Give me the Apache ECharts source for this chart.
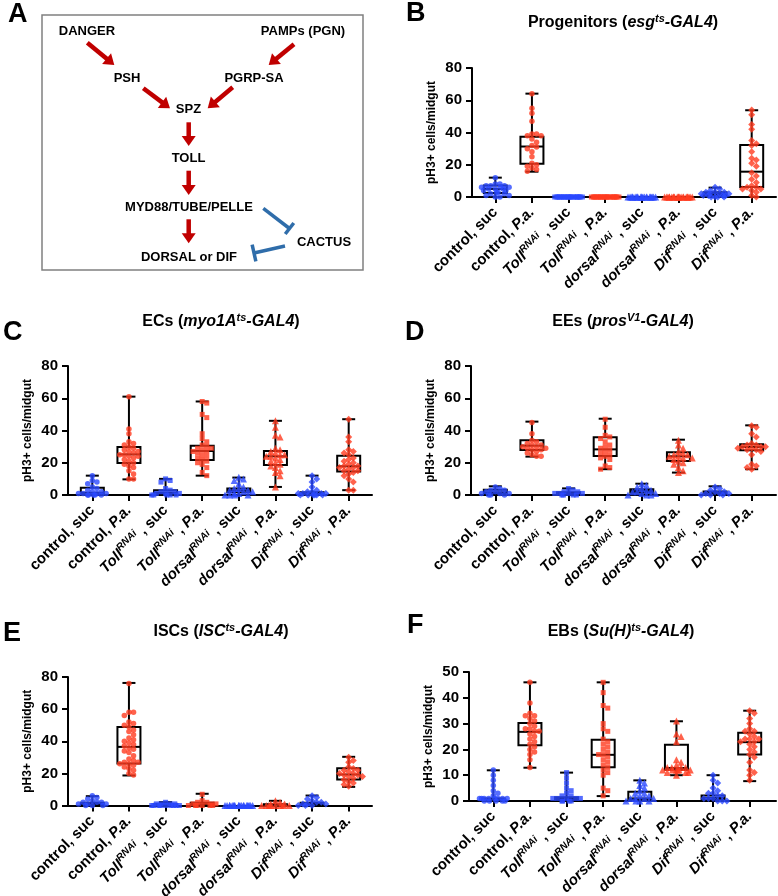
<!DOCTYPE html>
<html><head><meta charset="utf-8">
<script src="https://cdn.jsdelivr.net/npm/echarts@6/dist/echarts.min.js"></script>
<style>html,body{margin:0;padding:0;background:#fff}#c{width:778px;height:896px}</style>
</head><body><div id="c"></div>
<script>
// ---------------- DATA ----------------
const categories = ['control, suc','control, P.a.','TollRNAi , suc','TollRNAi , P.a.','dorsalRNAi , suc','dorsalRNAi , P.a.','DifRNAi , suc','DifRNAi , P.a.'];
const yAxisName = 'pH3+ cells/midgut';

// box stats per category: [min, Q1, median, Q3, max]
const B_stats = [[0,2.5,5,7.2,12],[15.7,20.6,31.3,37.3,64.1],[0,0,0,0,0],[0,0,0,0,0],[0,0,0,0,0],[0,0,0,0,0],[0,1.2,2,2.9,5.8],[0,6.2,15.7,32.2,53.8]];
const B_points = [
  [12,8,8,7,7,7,6,6,6,5,5,5,4,4,3,3,2,2,1,1,0,0],
  [64,55,52,47,39,39,38,38,36,34,32,31,30,28,25,21,20,19,18,17,16],
  [0,0,0,0,0,0,0,0,0,0,0,0,0,0,0,0,0,0,0,0,0,0],
  [0,0,0,0,0,0,0,0,0,0,0,0,0,0,0,0,0,0,0,0,0,0],
  [0,0,0,0,0,0,0,0,0,0,0,0,0,0,0,0,0,0,0,0,0,0],
  [0,0,0,0,0,0,0,0,0,0,0,0,0,0,0,0,0,0,0,0,0,0],
  [6,5,4,3,3,3,2,2,2,2,1,1,1,1,0,0,0,0],
  [54,51,45,42,35,33,32,28,24,23,21,19,15,13,11,9,7,6,6,5,5,4,3,1,0]
];
const B_sig = ['','','***','***','***','***','***','**'];

const C_stats = [[0,0.4,1.4,4.5,12],[9.7,19.8,25.2,29.8,61],[0,0.4,1.4,2.9,10],[12,21.7,27.3,30.6,58],[0,1.7,2.9,4.1,10.8],[5,18.6,24,27.3,46],[0,0.4,1,1.7,12],[3,14.5,17.8,24.4,47]];
const C_points = [
  [12,9,8,7,5,4,3,2,2,1,1,1,1,0,0,0,0,0],
  [61,41,38,33,32,31,30,29,28,27,27,26,25,25,24,24,23,22,21,20,19,18,17,15,13,10,10],
  [10,9,8,4,3,2,2,1,1,1,0,0,0,0,0],
  [58,57,50,48,38,35,33,31,30,29,29,28,27,27,26,25,24,23,22,21,20,19,17,14,12],
  [11,10,9,7,5,4,4,3,3,2,2,1,1,0,0,0,0],
  [46,42,37,36,29,28,27,26,25,25,24,24,23,22,21,20,19,18,17,15,14,12,5],
  [12,10,8,5,3,2,2,1,1,1,1,0,0,0,0,0,0],
  [47,36,33,28,27,26,25,23,22,21,20,19,18,18,17,17,16,15,15,14,13,12,10,8,3,3]
];
const C_sig = ['','','','','','','',''];

const D_stats = [[0,0.8,1.7,3.3,5.4],[23.8,27.9,30.6,33.9,45.5],[0,0.5,1,1.7,4.1],[16,24.2,28.3,35.8,47.3],[0,1.4,2.5,3.5,7],[13.9,21.1,24,26.5,34.3],[0,0.8,1.4,2.1,5.4],[16,27.7,29.8,31.4,43.2]];
const D_points = [
  [5,4,3,3,2,2,1,1,1,0,0,0],
  [45,38,34,33,32,31,31,30,30,29,29,28,28,27,26,25,24,24],
  [4,3,2,2,1,1,1,1,0,0,0,0],
  [47,42,37,36,35,33,31,30,29,28,27,26,25,24,23,22,18,17,16],
  [7,6,5,4,3,3,2,2,1,1,0,0,0],
  [34,31,29,27,26,25,25,24,24,23,23,22,21,20,19,17,15,14],
  [5,4,3,2,2,1,1,1,0,0,0],
  [43,42,38,36,32,31,31,30,30,30,29,29,28,28,27,25,19,18,17,16]
];
const D_sig = ['','','*','','','***','',''];

const E_stats = [[0,0.4,1,1.7,5.8],[18.7,26.1,36.5,48.9,76.3],[0,0,0.5,1,2.1],[0,0,0.6,1.7,7.3],[0,0,0,0,0],[0,0,0.2,0.8,2.9],[0,0.4,1,1.7,6.2],[11.6,16.2,19.3,23.2,30.3]];
const E_points = [
  [6,5,4,3,2,2,2,1,1,1,0,0,0],
  [76,58,58,56,52,51,50,49,47,46,44,42,41,40,39,38,37,36,35,34,33,31,29,28,27,27,26,26,25,24,23,22,20,19],
  [2,1,1,1,1,0,0,0,0,0,0,0,0,0],
  [7,3,2,2,1,1,1,0,0,0,0,0,0],
  [0,0,0,0,0,0,0,0,0,0,0,0,0,0,0,0,0,0,0,0],
  [3,2,1,1,0,0,0,0,0,0,0,0],
  [6,5,4,3,2,2,1,1,1,0,0,0],
  [30,28,27,24,23,22,22,21,20,20,19,19,18,18,17,16,15,14,13,12]
];
const E_sig = ['','','***','***','***','***','','***'];

const F_stats = [[0,0.5,0.8,1,11.9],[12.9,21.6,26.8,30.2,46],[0,0.5,0.8,1.5,11],[1.9,13.1,17.9,23.7,46],[0,0.5,1,3.6,8],[10,12,12.8,21.8,30.9],[0,0.6,1.2,2.1,10],[7.7,18,22.8,26.5,35]];
const F_points = [
  [12,10,8,6,4,3,2,1,1,1,1,1,1,1,1,0,0,0,0,0],
  [46,38,34,33,33,32,31,30,29,28,28,27,27,26,25,24,23,22,21,20,19,18,16,13],
  [11,9,7,5,4,3,2,2,1,1,1,1,1,0,0,0,0],
  [46,42,37,36,30,28,27,24,23,22,21,20,19,18,18,17,16,15,14,13,12,11,10,5,4,2],
  [8,7,6,5,4,3,3,2,2,1,1,1,1,0,0,0,0],
  [31,26,25,23,16,15,14,13,13,13,13,12,12,12,12,12,12,11,11,11,10],
  [10,8,7,5,4,3,3,2,2,1,1,1,0,0,0],
  [35,34,32,30,28,27,27,26,25,24,24,24,23,23,22,21,20,19,18,17,15,12,11,10,8]
];
const F_sig = ['','','','**','','***','','*'];

// ---------------- STYLE / LAYOUT ----------------
const FONT = '"Liberation Sans", Arial, Helvetica, sans-serif';
const BLUE = '#2A48FF', RED = '#FF3B1F', DRED = '#C00000', IBLUE = '#2F6DAA';
const SHAPES = ['circle','circle','rect','rect','triangle','triangle','diamond','diamond'];
const SIZES = {circle:5.5, rect:5, triangle:7, diamond:7};

function richSet(size, sup){
  return {
    b:{fontFamily:FONT,fontWeight:'bold',fontSize:size,color:'#000',lineHeight:size+4},
    bi:{fontFamily:FONT,fontWeight:'bold',fontStyle:'italic',fontSize:size,color:'#000',lineHeight:size+4},
    sup:{fontFamily:FONT,fontWeight:'bold',fontStyle:'italic',fontSize:sup,color:'#000',lineHeight:sup,verticalAlign:'top'}
  };
}
const LABELS = [
  '{b|control, suc}',
  '{b|control, }{bi|P.a.}',
  '{bi|Toll}{sup|RNAi}{b| , suc}',
  '{bi|Toll}{sup|RNAi}{b| , }{bi|P.a.}',
  '{bi|dorsal}{sup|RNAi}{b| , suc}',
  '{bi|dorsal}{sup|RNAi}{b| , }{bi|P.a.}',
  '{bi|Dif}{sup|RNAi}{b| , suc}',
  '{bi|Dif}{sup|RNAi}{b| , }{bi|P.a.}'
];

const panels = [
  {stats:B_stats, pts:B_points, sig:B_sig, max:80, interval:20, axisX:472, left:477, right:776, top:68, h:129, sigLevel:80,
   title:'{b|Progenitors (}{bi|esg}{sup|ts}{bi|-GAL4}{b|)}', tx:623, ty:23, letter:'B', lx:406, ly:14},
  {stats:C_stats, pts:C_points, sig:C_sig, max:80, interval:20, axisX:68, left:74, right:372, top:366, h:129, sigLevel:81,
   title:'{b|ECs (}{bi|myo1A}{sup|ts}{bi|-GAL4}{b|)}', tx:221, ty:322, letter:'C', lx:3, ly:333},
  {stats:D_stats, pts:D_points, sig:D_sig, max:80, interval:20, axisX:471, left:477, right:776, top:366, h:129, sigLevel:81.2,
   title:'{b|EEs (}{bi|pros}{sup|V1}{bi|-GAL4}{b|)}', tx:623, ty:322, letter:'D', lx:405, ly:333},
  {stats:E_stats, pts:E_points, sig:E_sig, max:80, interval:20, axisX:68, left:74, right:372, top:677, h:128.5, sigLevel:80.5,
   title:'{b|ISCs (}{bi|ISC}{sup|ts}{bi|-GAL4}{b|)}', tx:221, ty:632, letter:'E', lx:3, ly:634},
  {stats:F_stats, pts:F_points, sig:F_sig, max:50, interval:10, axisX:469, left:475, right:776, top:672, h:129, sigLevel:52.3,
   title:'{b|EBs (}{bi|Su(H)}{sup|ts}{bi|-GAL4}{b|)}', tx:621, ty:632, letter:'F', lx:407, ly:626}
];

// deterministic horizontal spreading of points with close values (beeswarm)
function swarm(vals, pxPerUnit){
  const D = 4.6, placed = [], out = [];
  const cand = [0, 1, -1, 2, -2, 3, -3];
  vals.forEach((v, n) => {
    const y = v * pxPerUnit;
    let chosen = null;
    for (const c of cand){
      const off = c * D;
      if (placed.every(p => Math.hypot(p[0]-off, p[1]-y) >= D)) { chosen = off; break; }
    }
    if (chosen === null) chosen = cand[n % cand.length] * D * 0.85 + ((n % 3) - 1) * 1.2;
    placed.push([chosen, y]); out.push(chosen);
  });
  return out;
}

const grids = [], xAxes = [], yAxes = [], series = [], graphics = [];

panels.forEach((p, pi) => {
  const gDisp = grids.length;
  grids.push({left:p.axisX, top:p.top, width:p.right - p.axisX, height:p.h, containLabel:false, outerBoundsMode:'none'});
  const gData = grids.length;
  grids.push({left:p.left, top:p.top, width:293, height:p.h, containLabel:false, outerBoundsMode:'none'});

  // display axes
  xAxes.push({gridIndex:gDisp, type:'value', min:0, max:1, axisLine:{show:true, lineStyle:{color:'#000', width:2}},
    axisTick:{show:false}, axisLabel:{show:false}, splitLine:{show:false}});
  yAxes.push({gridIndex:gDisp, type:'value', min:0, max:p.max, interval:p.interval,
    name:yAxisName, nameLocation:'middle', nameGap:34, nameRotate:90,
    nameTextStyle:{fontFamily:FONT, fontWeight:'bold', fontSize:12, color:'#000'},
    axisLine:{show:true, lineStyle:{color:'#000', width:2}},
    axisTick:{show:true, length:6, lineStyle:{color:'#000', width:2}},
    axisLabel:{fontFamily:FONT, fontWeight:'bold', fontSize:15, color:'#000', margin:10},
    splitLine:{show:false}});
  // data axes
  const xi = xAxes.length;
  xAxes.push({gridIndex:gData, type:'category', data:categories, boundaryGap:true,
    axisLine:{show:false}, axisTick:{show:true, alignWithLabel:true, length:6, lineStyle:{color:'#000', width:2}},
    axisLabel:{interval:0, rotate:45, margin:13, formatter:(v, i) => LABELS[i], rich:richSet(15, 10)},
    splitLine:{show:false}});
  const yi = yAxes.length;
  yAxes.push({gridIndex:gData, type:'value', min:0, max:p.max, show:false, splitLine:{show:false}});

  // boxes
  series.push({type:'custom', xAxisIndex:xi, yAxisIndex:yi, clip:false, z:2,
    data:p.stats.map((s, i) => [i, ...s]),
    encode:{x:0, y:[1,2,3,4,5]},
    renderItem:(params, api) => {
      const i = api.value(0);
      const mn = api.value(1), q1 = api.value(2), md = api.value(3), q3 = api.value(4), mx = api.value(5);
      if (mx === 0) return {type:'group', children:[]};
      const x = api.coord([i, 0])[0];
      const y = v => api.coord([i, v])[1];
      const bw = 11.5, cw = 6.5;
      const st = {stroke:'#000', lineWidth:2};
      return {type:'group', children:[
        {type:'line', shape:{x1:x, y1:y(mn), x2:x, y2:y(q1)}, style:st},
        {type:'line', shape:{x1:x, y1:y(q3), x2:x, y2:y(mx)}, style:st},
        {type:'line', shape:{x1:x-cw, y1:y(mn), x2:x+cw, y2:y(mn)}, style:st},
        {type:'line', shape:{x1:x-cw, y1:y(mx), x2:x+cw, y2:y(mx)}, style:st},
        {type:'rect', shape:{x:x-bw, y:y(q3), width:2*bw, height:y(q1)-y(q3)}, style:{stroke:'#000', lineWidth:2, fill:'none'}},
        {type:'line', shape:{x1:x-bw, y1:y(md), x2:x+bw, y2:y(md)}, style:st}
      ]};
    }});

  // points
  const ppu = p.h / p.max;
  const pdata = [];
  p.pts.forEach((vals, i) => {
    const offs = swarm(vals, ppu);
    vals.forEach((v, k) => {
      pdata.push({value:[i, v], symbol:SHAPES[i], symbolSize:SIZES[SHAPES[i]], symbolOffset:[offs[k], 0],
        itemStyle:{color: i % 2 ? RED : BLUE, opacity:0.8}});
    });
  });
  series.push({type:'scatter', xAxisIndex:xi, yAxisIndex:yi, clip:false, z:3, silent:true, data:pdata});

  // significance marks
  series.push({type:'scatter', xAxisIndex:xi, yAxisIndex:yi, clip:false, z:4, symbolSize:1, itemStyle:{opacity:0},
    data:p.sig.map((s, i) => ({value:[i, p.sigLevel], name:s,
      label:{show:s !== '', formatter:'{b}', position:'inside', color: i % 2 ? RED : BLUE,
        fontFamily:FONT, fontWeight:'bold', fontSize:14}}))});

  // titles and panel letters
  graphics.push({type:'text', x:p.tx, y:p.ty, style:{text:p.title, rich:richSet(16, 11), align:'center', verticalAlign:'middle', textAlign:'center', textVerticalAlign:'middle'}});
  graphics.push({type:'text', x:p.lx, y:p.ly, style:{text:p.letter, font:'bold 27px ' + FONT, fill:'#000', align:'left', verticalAlign:'middle', textAlign:'left', textVerticalAlign:'middle'}});
});

// ---------------- PANEL A: pathway schematic ----------------
graphics.push({type:'text', x:8, y:15, style:{text:'A', font:'bold 27px ' + FONT, fill:'#000', align:'left', verticalAlign:'middle', textAlign:'left', textVerticalAlign:'middle'}});
graphics.push({type:'rect', shape:{x:42, y:15, width:321, height:255}, style:{stroke:'#808080', lineWidth:1.5, fill:'none'}});
const nodes = [
  ['DANGER', 87, 31], ['PAMPs (PGN)', 303, 31], ['PSH', 127, 78], ['PGRP-SA', 254, 78],
  ['SPZ', 188.5, 109], ['TOLL', 188.5, 158], ['MYD88/TUBE/PELLE', 189, 207],
  ['DORSAL or DIF', 189, 257], ['CACTUS', 324, 242]
];
nodes.forEach(n => graphics.push({type:'text', x:n[1], y:n[2], style:{text:n[0], font:'bold 13px ' + FONT, fill:'#000', align:'center', verticalAlign:'middle', textAlign:'center', textVerticalAlign:'middle'}}));
function arrow(x1, y1, x2, y2){
  const dx = x2-x1, dy = y2-y1, L = Math.hypot(dx, dy), ux = dx/L, uy = dy/L, nx = -uy, ny = ux;
  const hl = 10, hw = 7, bx = x2-ux*hl, by = y2-uy*hl;
  graphics.push({type:'line', shape:{x1, y1, x2:bx+ux, y2:by+uy}, style:{stroke:DRED, lineWidth:4.5}});
  graphics.push({type:'polygon', shape:{points:[[x2, y2],[bx+nx*hw, by+ny*hw],[bx-nx*hw, by-ny*hw]]}, style:{fill:DRED}});
}
function inhibit(x1, y1, x2, y2, half){
  const dx = x2-x1, dy = y2-y1, L = Math.hypot(dx, dy), nx = -dy/L, ny = dx/L;
  graphics.push({type:'line', shape:{x1, y1, x2, y2}, style:{stroke:IBLUE, lineWidth:3.5}});
  graphics.push({type:'line', shape:{x1:x2+nx*half, y1:y2+ny*half, x2:x2-nx*half, y2:y2-ny*half}, style:{stroke:IBLUE, lineWidth:3.5}});
}
arrow(87.3, 42.7, 114.3, 65);
arrow(294, 44.3, 268.7, 65);
arrow(143.3, 88.3, 170, 108.3);
arrow(232.7, 87.3, 207.7, 108.3);
arrow(188.7, 122.3, 188.7, 146);
arrow(188.7, 170.7, 188.7, 195);
arrow(188.7, 219.3, 188.7, 243.3);
inhibit(263.3, 208.3, 289.5, 228.5, 7);
inhibit(285, 246, 254, 253, 8.5);

const chart = echarts.init(document.getElementById('c'), null, {renderer:'canvas'});
chart.setOption({
  animation:false, backgroundColor:'#fff',
  grid:grids, xAxis:xAxes, yAxis:yAxes, series:series,
  graphic:{elements:graphics}
});
</script></body></html>
